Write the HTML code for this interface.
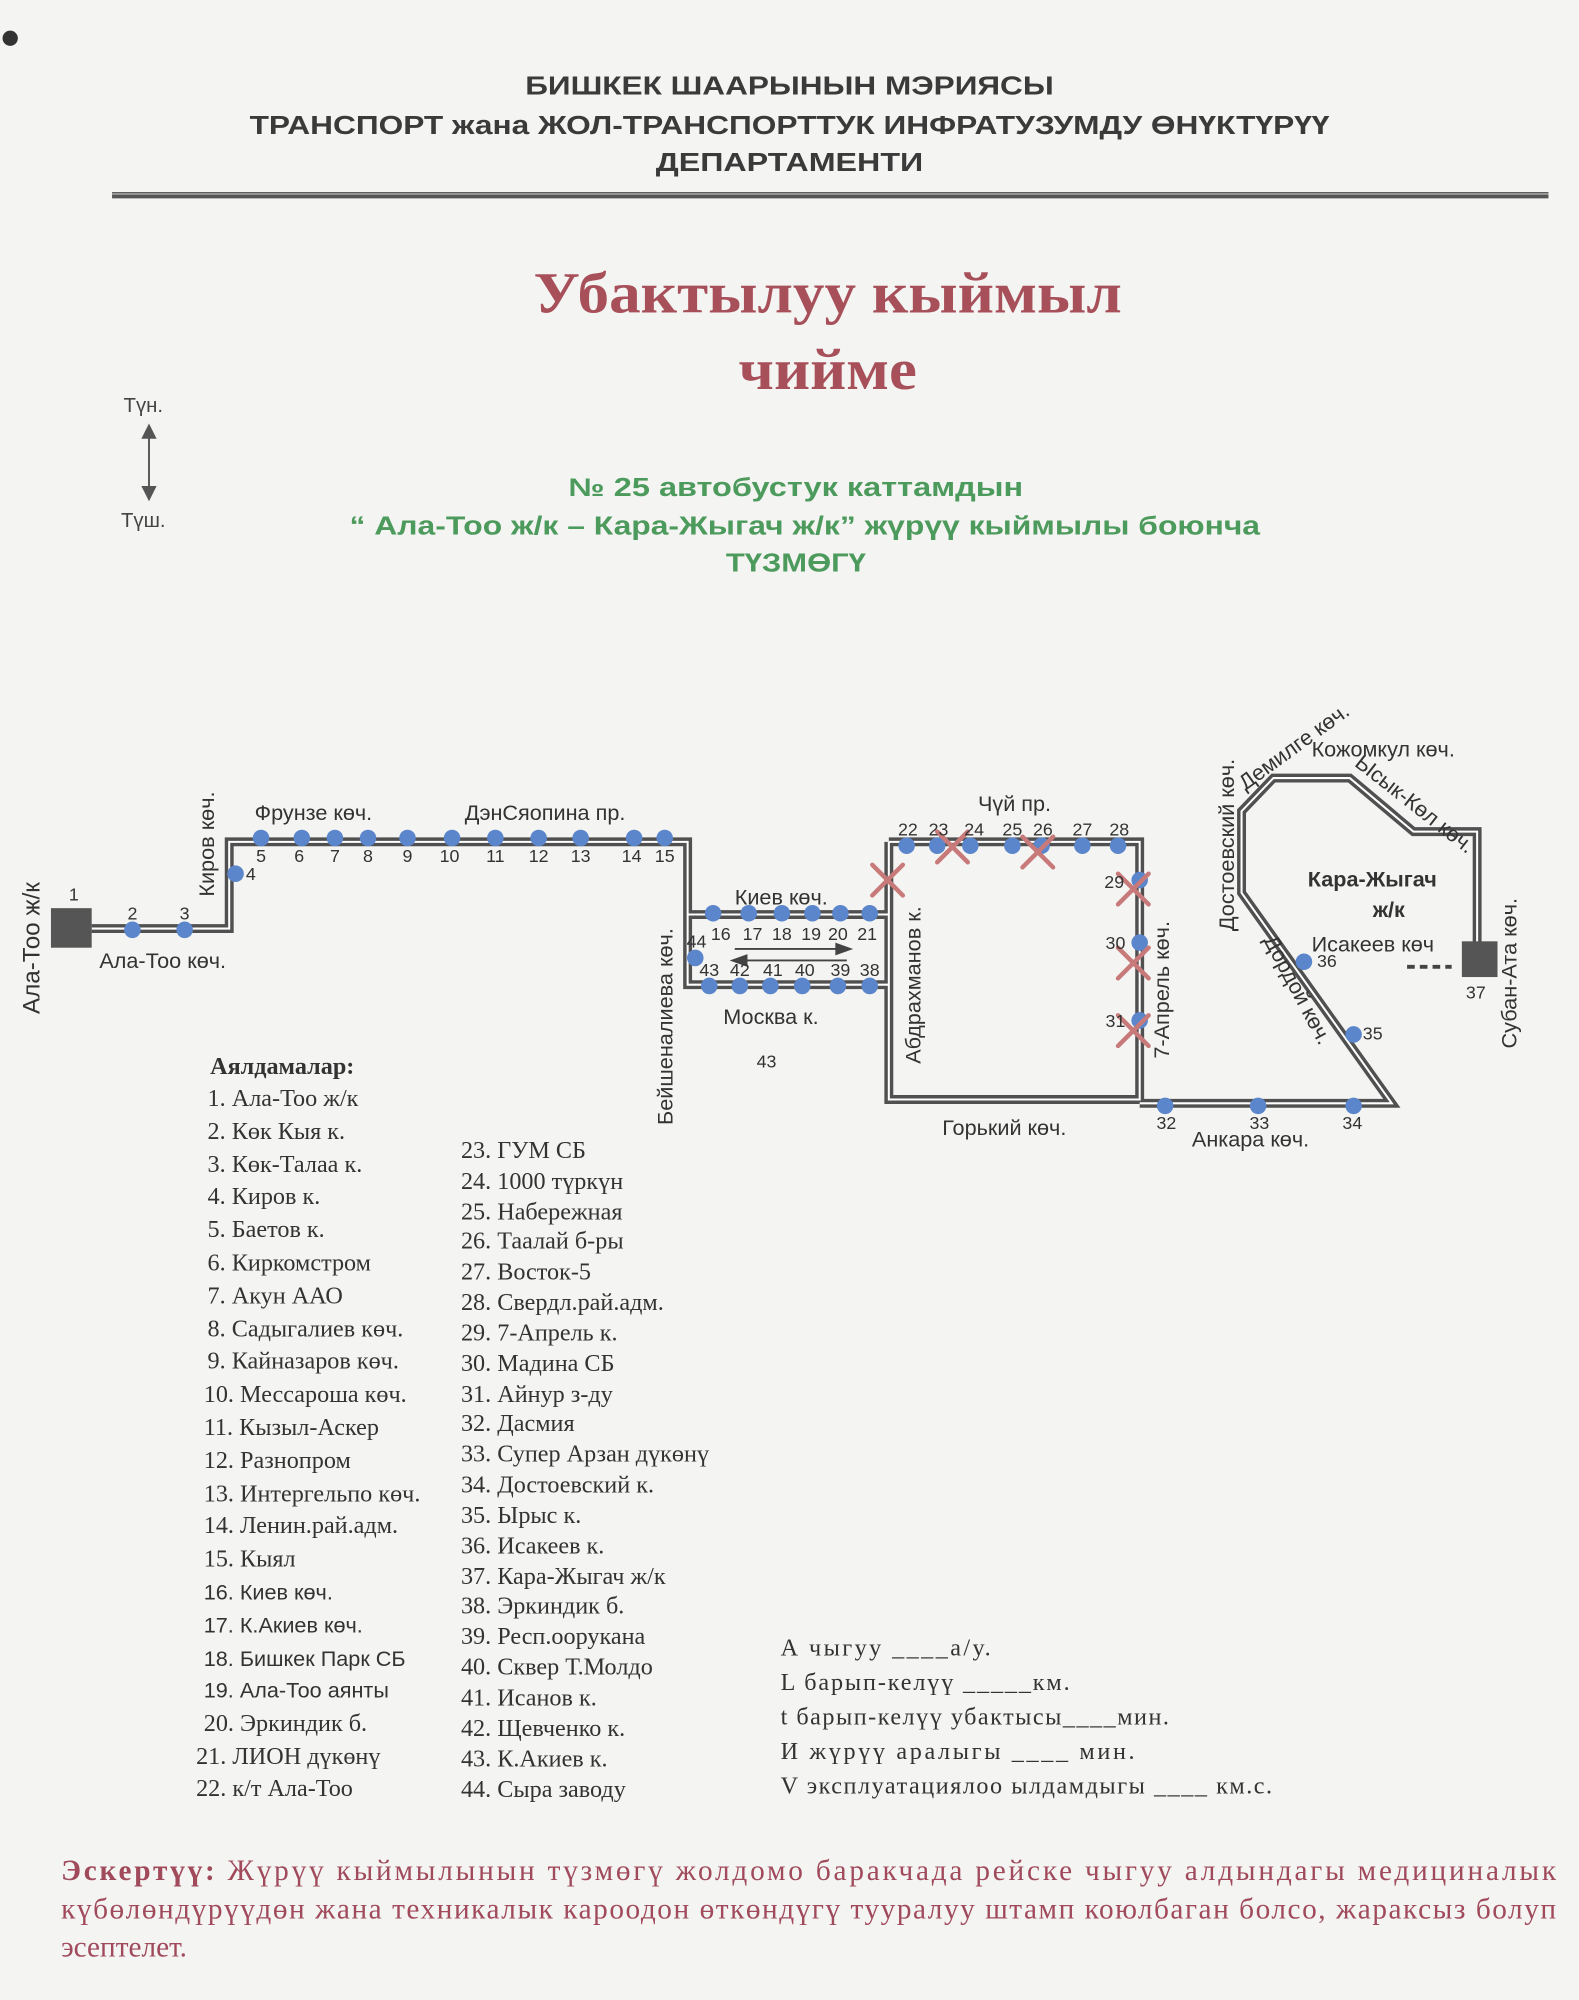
<!DOCTYPE html>
<html><head><meta charset="utf-8"><style>
html,body{margin:0;padding:0;background:#f4f4f2;}
svg{display:block;}
</style></head><body>
<svg width="1579" height="2000" viewBox="0 0 1240 1568" preserveAspectRatio="none" xmlns="http://www.w3.org/2000/svg" font-family="'Liberation Sans', sans-serif">
<rect width="1240" height="1568" fill="#f4f4f2"/>
<circle cx="8" cy="30" r="6" fill="#333"/>
<!-- header -->
<g fill="#3a3a3a" font-weight="bold" font-size="20" text-anchor="middle">
<text x="620" y="74" textLength="415" lengthAdjust="spacingAndGlyphs">БИШКЕК ШААРЫНЫН МЭРИЯСЫ</text>
<text x="620" y="105" textLength="848" lengthAdjust="spacingAndGlyphs">ТРАНСПОРТ жана ЖОЛ-ТРАНСПОРТТУК ИНФРАТУЗУМДУ ӨНҮКТҮРҮҮ</text>
<text x="620" y="134" textLength="210" lengthAdjust="spacingAndGlyphs">ДЕПАРТАМЕНТИ</text>
</g>
<line x1="88" y1="153" x2="1216" y2="153" stroke="#555" stroke-width="5"/>
<line x1="88" y1="152" x2="1216" y2="152" stroke="#999" stroke-width="1.5"/>
<!-- title -->
<g fill="#a8505a" font-family="'Liberation Serif', serif" font-weight="bold" font-size="46" text-anchor="middle">
<text x="650" y="245" textLength="462" lengthAdjust="spacingAndGlyphs">Убактылуу кыймыл</text>
<text x="650" y="305" textLength="140" lengthAdjust="spacingAndGlyphs">чийме</text>
</g>
<!-- compass -->
<g fill="#444" font-size="16">
<text x="97" y="323">Түн.</text>
<text x="95" y="413">Түш.</text>
</g>
<line x1="117" y1="340" x2="117" y2="385" stroke="#555" stroke-width="1.5"/>
<path d="M111 344 L117 332 L123 344 Z M111 381 L117 393 L123 381 Z" fill="#555"/>
<!-- green -->
<g fill="#4c9a5c" font-weight="bold" font-size="20" text-anchor="middle">
<text x="625" y="389" textLength="357" lengthAdjust="spacingAndGlyphs">№ 25  автобустук каттамдын</text>
<text x="632" y="419" textLength="715" lengthAdjust="spacingAndGlyphs">“ Ала-Тоо ж/к – Кара-Жыгач ж/к” жүрүү кыймылы боюнча</text>
<text x="625" y="448" textLength="110" lengthAdjust="spacingAndGlyphs">ТҮЗМӨГҮ</text>
</g>
<!-- roads -->
<g fill="none" stroke-linejoin="miter">
<g stroke="#505050" stroke-width="7">
<polyline points="72,728 180,728 180,660 540,660 540,772 698,772"/>
<line x1="540" y1="717" x2="698" y2="717"/>
<polyline points="698,660 895,660 895,862 698,862 698,660"/>
<polyline points="895,865 1093,865 975,700 975,636 1000,610 1060,610 1110,652 1160,652 1160,742"/>
</g>
<g stroke="#fff" stroke-width="1.6">
<polyline points="72,728 180,728 180,660 540,660 540,772 698,772"/>
<line x1="540" y1="717" x2="698" y2="717"/>
<polyline points="698,660 895,660 895,862 698,862 698,660"/>
<polyline points="895,865 1093,865 975,700 975,636 1000,610 1060,610 1110,652 1160,652 1160,742"/>
</g>
</g>
<rect x="40" y="712" width="32" height="31" fill="#555"/>
<rect x="1148" y="738" width="28" height="28" fill="#555"/>
<line x1="1105" y1="758" x2="1140" y2="758" stroke="#444" stroke-width="3" stroke-dasharray="6,4"/>
<!-- arrows -->
<line x1="577" y1="744" x2="658" y2="744" stroke="#444" stroke-width="1.5"/>
<path d="M656 739 L670 744 L656 749 Z" fill="#444"/>
<line x1="585" y1="753" x2="665" y2="753" stroke="#444" stroke-width="1.5"/>
<path d="M587 748 L573 753 L587 758 Z" fill="#444"/>
<!-- stops -->
<g fill="#5b86cc">
<circle cx="104" cy="729" r="6.5"/><circle cx="145" cy="729" r="6.5"/><circle cx="185" cy="685" r="6.5"/>
<circle cx="205" cy="657" r="6.5"/><circle cx="237" cy="657" r="6.5"/><circle cx="263" cy="657" r="6.5"/><circle cx="289" cy="657" r="6.5"/><circle cx="320" cy="657" r="6.5"/><circle cx="355" cy="657" r="6.5"/><circle cx="389" cy="657" r="6.5"/><circle cx="423" cy="657" r="6.5"/><circle cx="456" cy="657" r="6.5"/><circle cx="498" cy="657" r="6.5"/><circle cx="522" cy="657" r="6.5"/>
<circle cx="560" cy="716" r="6.5"/><circle cx="588" cy="716" r="6.5"/><circle cx="614" cy="716" r="6.5"/><circle cx="638" cy="716" r="6.5"/><circle cx="660" cy="716" r="6.5"/><circle cx="683" cy="716" r="6.5"/>
<circle cx="546" cy="751" r="6.5"/>
<circle cx="557" cy="773" r="6.5"/><circle cx="581" cy="773" r="6.5"/><circle cx="605" cy="773" r="6.5"/><circle cx="630" cy="773" r="6.5"/><circle cx="658" cy="773" r="6.5"/><circle cx="683" cy="773" r="6.5"/>
<circle cx="712" cy="663" r="6.5"/><circle cx="736" cy="663" r="6.5"/><circle cx="762" cy="663" r="6.5"/><circle cx="795" cy="663" r="6.5"/><circle cx="818" cy="663" r="6.5"/><circle cx="850" cy="663" r="6.5"/><circle cx="878" cy="663" r="6.5"/>
<circle cx="895" cy="690" r="6.5"/><circle cx="895" cy="739" r="6.5"/><circle cx="895" cy="800" r="6.5"/>
<circle cx="915" cy="867" r="6.5"/><circle cx="988" cy="867" r="6.5"/><circle cx="1063" cy="867" r="6.5"/>
<circle cx="1063" cy="811" r="6.5"/><circle cx="1024" cy="754" r="6.5"/>
</g>
<!-- X marks -->
<g stroke="#c87a7a" stroke-width="3.5" stroke-linecap="round">
<path d="M685 678 L709 702 M709 678 L685 702"/>
<path d="M736 652 L760 676 M760 652 L736 676"/>
<path d="M803 656 L827 680 M827 656 L803 680"/>
<path d="M878 685 L902 709 M902 685 L878 709"/>
<path d="M878 743 L902 767 M902 743 L878 767"/>
<path d="M878 796 L902 820 M902 796 L878 820"/>
</g>
<!-- stop numbers -->
<g fill="#333" font-size="14" text-anchor="middle">
<text x="58" y="706">1</text><text x="104" y="721">2</text><text x="145" y="721">3</text><text x="197" y="690">4</text>
<text x="205" y="676">5</text><text x="235" y="676">6</text><text x="263" y="676">7</text><text x="289" y="676">8</text><text x="320" y="676">9</text><text x="353" y="676">10</text><text x="389" y="676">11</text><text x="423" y="676">12</text><text x="456" y="676">13</text><text x="496" y="676">14</text><text x="522" y="676">15</text>
<text x="566" y="737">16</text><text x="591" y="737">17</text><text x="614" y="737">18</text><text x="637" y="737">19</text><text x="658" y="737">20</text><text x="681" y="737">21</text>
<text x="547" y="743">44</text>
<text x="557" y="765">43</text><text x="581" y="765">42</text><text x="607" y="765">41</text><text x="632" y="765">40</text><text x="660" y="765">39</text><text x="683" y="765">38</text>
<text x="713" y="655">22</text><text x="737" y="655">23</text><text x="765" y="655">24</text><text x="795" y="655">25</text><text x="819" y="655">26</text><text x="850" y="655">27</text><text x="879" y="655">28</text>
<text x="875" y="696">29</text><text x="876" y="744">30</text><text x="876" y="805">31</text>
<text x="916" y="885">32</text><text x="989" y="885">33</text><text x="1062" y="885">34</text>
<text x="1078" y="815">35</text><text x="1042" y="758">36</text><text x="1159" y="783">37</text>
<text x="602" y="837">43</text>
</g>
<!-- street labels -->
<g fill="#333" font-size="17">
<text transform="translate(31,795) rotate(-90)" font-size="19">Ала-Тоо ж/к</text>
<text x="78" y="759">Ала-Тоо көч.</text>
<text transform="translate(168,703) rotate(-90)">Киров көч.</text>
<text x="200" y="643">Фрунзе көч.</text>
<text x="365" y="643">ДэнСяопина пр.</text>
<text transform="translate(528,882) rotate(-90)">Бейшеналиева көч.</text>
<text x="577" y="709">Киев көч.</text>
<text x="568" y="803">Москва к.</text>
<text transform="translate(723,834) rotate(-90)">Абдрахманов к.</text>
<text x="768" y="636">Чүй пр.</text>
<text transform="translate(918,830) rotate(-90)">7-Апрель көч.</text>
<text x="740" y="890">Горький көч.</text>
<text x="936" y="899">Анкара көч.</text>
<text transform="translate(969,730) rotate(-90)">Достоевский көч.</text>
<text transform="translate(978,620) rotate(-36)">Демилге көч.</text>
<text x="1030" y="593">Кожомкул көч.</text>
<text transform="translate(1063,600) rotate(38)">Ысык-Көл көч.</text>
<text transform="translate(1191,822) rotate(-90)">Субан-Ата көч.</text>
<text transform="translate(992,737) rotate(62)">Дордой көч.</text>
<text x="1030" y="746">Исакеев көч</text>
<text x="1027" y="695" font-weight="bold">Кара-Жыгач</text>
<text x="1078" y="719" font-weight="bold">ж/к</text>
</g>
<!-- legend -->
<g fill="#333" font-family="'Liberation Serif', serif" font-size="19">
<text x="165" y="842" font-weight="bold">Аялдамалар:</text>
<text x="163" y="867">1. Ала-Тоо ж/к</text>
<text x="163" y="893">2. Көк Кыя к.</text>
<text x="163" y="919">3. Көк-Талаа к.</text>
<text x="163" y="944">4. Киров к.</text>
<text x="163" y="970">5. Баетов к.</text>
<text x="163" y="996">6. Киркомстром</text>
<text x="163" y="1022">7. Акун ААО</text>
<text x="163" y="1048">8. Садыгалиев көч.</text>
<text x="163" y="1073">9. Кайназаров көч.</text>
<text x="160" y="1099">10. Мессароша көч.</text>
<text x="160" y="1125">11. Кызыл-Аскер</text>
<text x="160" y="1151">12. Разнопром</text>
<text x="160" y="1177">13. Интергельпо көч.</text>
<text x="160" y="1202">14. Ленин.рай.адм.</text>
<text x="160" y="1228">15. Кыял</text>
<g font-family="'Liberation Sans', sans-serif" font-size="17">
<text x="160" y="1254">16. Киев көч.</text>
<text x="160" y="1280">17. К.Акиев көч.</text>
<text x="160" y="1306">18. Бишкек Парк СБ</text>
<text x="160" y="1331">19. Ала-Тоо аянты</text>
</g>
<text x="160" y="1357">20. Эркиндик б.</text>
<text x="154" y="1383">21. ЛИОН дүкөнү</text>
<text x="154" y="1408">22. к/т Ала-Тоо</text>
<text x="362" y="908">23. ГУМ СБ</text>
<text x="362" y="932">24. 1000 түркүн</text>
<text x="362" y="956">25. Набережная</text>
<text x="362" y="979">26. Таалай б-ры</text>
<text x="362" y="1003">27. Восток-5</text>
<text x="362" y="1027">28. Свердл.рай.адм.</text>
<text x="362" y="1051">29. 7-Апрель к.</text>
<text x="362" y="1075">30. Мадина СБ</text>
<text x="362" y="1099">31. Айнур з-ду</text>
<text x="362" y="1122">32. Дасмия</text>
<text x="362" y="1146">33. Супер Арзан дүкөнү</text>
<text x="362" y="1170">34. Достоевский к.</text>
<text x="362" y="1194">35. Ырыс к.</text>
<text x="362" y="1218">36. Исакеев к.</text>
<text x="362" y="1242">37. Кара-Жыгач ж/к</text>
<text x="362" y="1265">38. Эркиндик б.</text>
<text x="362" y="1289">39. Респ.оорукана</text>
<text x="362" y="1313">40. Сквер Т.Молдо</text>
<text x="362" y="1337">41. Исанов к.</text>
<text x="362" y="1361">42. Щевченко к.</text>
<text x="362" y="1385">43. К.Акиев к.</text>
<text x="362" y="1409">44. Сыра заводу</text>
<text x="613" y="1298" textLength="165" lengthAdjust="spacing">А чыгуу     ____а/у.</text>
<text x="613" y="1325" textLength="227" lengthAdjust="spacing">L барып-келүү  _____км.</text>
<text x="613" y="1352" textLength="305" lengthAdjust="spacing">t барып-келүү убактысы____мин.</text>
<text x="613" y="1379" textLength="278" lengthAdjust="spacing">И жүрүү аралыгы  ____     мин.</text>
<text x="613" y="1406" textLength="386" lengthAdjust="spacing">V эксплуатациялоо ылдамдыгы ____ км.с.</text>
</g>
<!-- footer -->
<g fill="#a04a5c" font-family="'Liberation Serif', serif" font-size="23">
<text x="48" y="1474" textLength="1174" lengthAdjust="spacing"><tspan font-weight="bold">Эскертүү:</tspan> Жүрүү кыймылынын түзмөгү жолдомо баракчада рейске чыгуу алдындагы медициналык</text>
<text x="48" y="1504" textLength="1174" lengthAdjust="spacing">күбөлөндүрүүдөн жана техникалык кароодон өткөндүгү тууралуу штамп коюлбаган болсо, жараксыз болуп</text>
<text x="48" y="1534">эсептелет.</text>
</g>
</svg>
</body></html>
